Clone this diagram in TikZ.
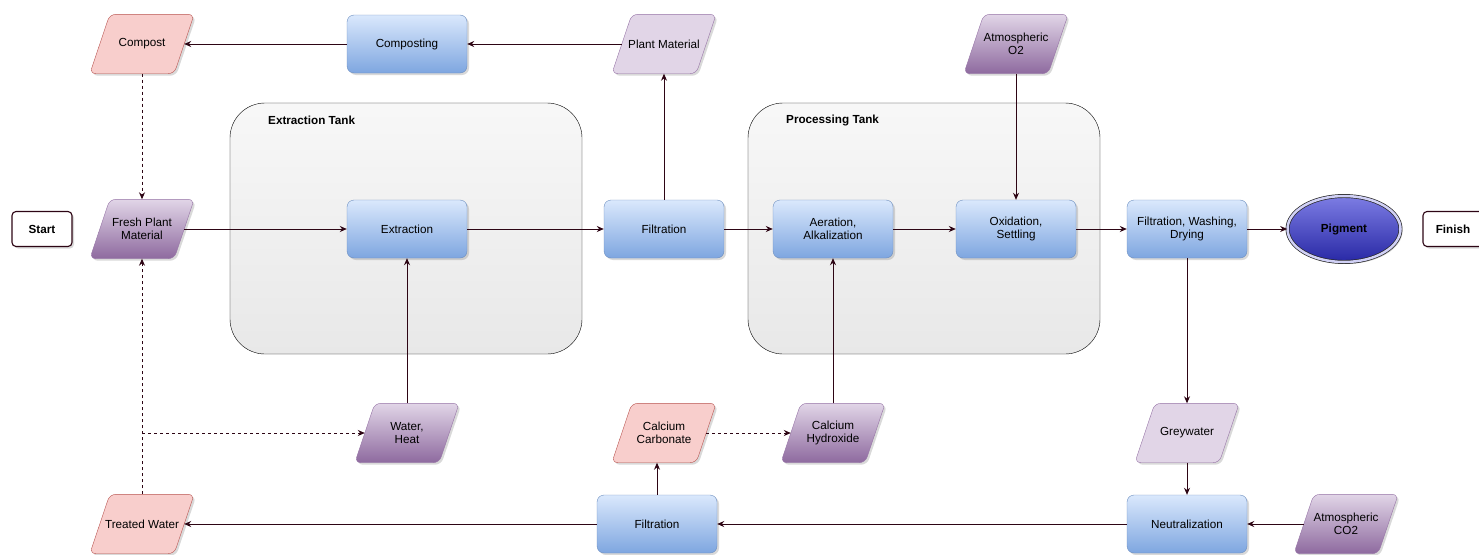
\documentclass[tikz,border=0pt]{standalone}
\usepackage{fontspec}
\setmainfont{Liberation Sans}
\usetikzlibrary{arrows.meta,shadows,shapes.geometric}

% slanted data box: rectangle anchors, parallelogram outline
\makeatletter
\pgfdeclareshape{slantbox}{
  \inheritsavedanchors[from=rectangle]
  \inheritanchorborder[from=rectangle]
  \inheritanchor[from=rectangle]{center}
  \inheritanchor[from=rectangle]{north}
  \inheritanchor[from=rectangle]{south}
  \inheritanchor[from=rectangle]{east}
  \inheritanchor[from=rectangle]{west}
  \inheritanchor[from=rectangle]{text}
  \inheritanchor[from=rectangle]{base}
  \backgroundpath{%
    \southwest \pgf@xa=\pgf@x \pgf@ya=\pgf@y
    \northeast \pgf@xb=\pgf@x \pgf@yb=\pgf@y
    \edef\slbot{\the\pgf@ya}\edef\sltop{\the\pgf@yb}%
    \pgf@xc=\pgf@xa \advance\pgf@xc by -10pt \edef\slbl{\the\pgf@xc}%
    \pgf@xc=\pgf@xa \advance\pgf@xc by 10pt \edef\sltl{\the\pgf@xc}%
    \pgf@xc=\pgf@xb \advance\pgf@xc by 10pt \edef\sltr{\the\pgf@xc}%
    \pgf@xc=\pgf@xb \advance\pgf@xc by -10pt \edef\slbr{\the\pgf@xc}%
    \pgf@xc=\pgf@xa \advance\pgf@xc by \pgf@xb \divide\pgf@xc by 2 \edef\slmid{\the\pgf@xc}%
    \pgfpathmoveto{\pgfqpoint{\slmid}{\slbot}}%
    \pgfpathlineto{\pgfqpoint{\slbl}{\slbot}}%
    \pgfpathlineto{\pgfqpoint{\sltl}{\sltop}}%
    \pgfpathlineto{\pgfqpoint{\sltr}{\sltop}}%
    \pgfpathlineto{\pgfqpoint{\slbr}{\slbot}}%
    \pgfpathclose
  }
}
\makeatother

\definecolor{linecol}{RGB}{45,5,20}
\definecolor{bluetop}{HTML}{DAE8FC}
\definecolor{bluebot}{HTML}{7EA6E0}
\definecolor{bluedraw}{HTML}{6C8EBF}
\definecolor{purptop}{HTML}{E1D5E7}
\definecolor{purpbot}{HTML}{8E6A9F}
\definecolor{purpdraw}{HTML}{9673A6}
\definecolor{pinkfill}{HTML}{F8CECC}
\definecolor{pinkdraw}{HTML}{B85450}
\definecolor{pigtop}{RGB}{125,125,228}
\definecolor{pigbot}{RGB}{40,40,165}

\tikzset{every node/.style={font=\fontsize{11.7}{13.5}\selectfont, align=center, inner sep=2pt},
  shadowed/.style={drop shadow={shadow xshift=2pt, shadow yshift=-2pt, opacity=.3}},
  procbox/.style={rectangle, rounded corners=7pt, draw=bluedraw, top color=bluetop, bottom color=bluebot,
    minimum width=120pt, minimum height=58pt, shadowed},
  databox/.style={slantbox, rounded corners=6pt, minimum width=84pt, minimum height=59pt, shadowed},
  inbox/.style={databox, draw=purpdraw, top color=purptop, bottom color=purpbot},
  outbox/.style={databox, draw=purpdraw, fill=purptop},
  wastebox/.style={databox, draw=pinkdraw, fill=pinkfill},
  termbox/.style={rectangle, rounded corners=4pt, draw=linecol, line width=1.1pt, fill=white,
    minimum width=60pt, minimum height=35pt, font=\fontsize{11.7}{13.5}\selectfont\bfseries, shadowed},
  tank/.style={draw=black, rounded corners=35pt, top color=white!97!black, bottom color=white!91!black},
  tanklabel/.style={anchor=west, font=\fontsize{11.7}{13.5}\selectfont\bfseries},
  arr/.style={draw=linecol, line width=1pt, -{Stealth[length=7pt,width=6pt]}},
  dasharr/.style={arr, dash pattern=on 3pt off 3pt}}

\begin{document}
\begin{tikzpicture}[x=1pt,y=-1pt]
  \useasboundingbox (0,0) rectangle (1479,554);

  % tanks
  \draw[tank] (230,103) rectangle (582,354);
  \draw[tank] (748,103) rectangle (1100,354);
  \node[tanklabel] (tankA) at (266,120) {Extraction Tank};
  \node[tanklabel] (tankB) at (784,120) {Processing Tank};

  % top row
  \node[wastebox] (compost)   at (142,44)  {Compost};
  \node[procbox]  (composting) at (407,44) {Composting};
  \node[outbox]   (plant)     at (664,44)  {Plant Material};
  \node[inbox]    (oxygen)    at (1016,44) {Atmospheric\\O2};

  % middle row
  \node[termbox]  (start)   at (42,229)   {Start};
  \node[inbox]    (fresh)   at (142,229)  {Fresh Plant\\Material};
  \node[procbox]  (extract) at (407,229)  {Extraction};
  \node[procbox]  (filtA)   at (664,229)  {Filtration};
  \node[procbox]  (aerate)  at (833,229)  {Aeration,\\Alkalization};
  \node[procbox]  (oxidize) at (1016,229) {Oxidation,\\Settling};
  \node[procbox]  (wash)    at (1187,229) {Filtration, Washing,\\Drying};
  \node[ellipse, draw=black!85, line width=0.7pt, double=white!65!pigtop, double distance=2.5pt,
        top color=pigtop, bottom color=pigbot, minimum width=113pt, minimum height=66pt,
        font=\fontsize{11.7}{13.5}\selectfont\bfseries, shadowed] (pigment) at (1344,229) {Pigment};
  \node[termbox]  (finish)  at (1453,229) {Finish};

  % lower row
  \node[inbox]    (water)   at (407,433)  {Water,\\Heat};
  \node[wastebox] (carb)    at (664,433)  {Calcium\\Carbonate};
  \node[inbox]    (hydrox)  at (833,433)  {Calcium\\Hydroxide};
  \node[outbox]   (grey)    at (1187,433) {Greywater};

  % bottom row
  \node[wastebox] (treated) at (142,524)  {Treated Water};
  \node[procbox]  (filtB)   at (657,524)  {Filtration};
  \node[procbox]  (neutral) at (1187,524) {Neutralization};
  \node[inbox]    (carbon)  at (1346,524) {Atmospheric\\CO2};

  % main flow
  \draw[arr] (fresh) -- (extract);
  \draw[arr] (extract) -- (filtA);
  \draw[arr] (filtA) -- (aerate);
  \draw[arr] (aerate) -- (oxidize);
  \draw[arr] (oxidize) -- (wash);
  \draw[arr] (wash) -- (pigment);

  % inputs
  \draw[arr] (water) -- (extract);
  \draw[arr] (hydrox) -- (aerate);
  \draw[arr] (oxygen) -- (oxidize);
  \draw[arr] (carbon) -- (neutral);

  % plant material loop
  \draw[arr] (filtA) -- (plant);
  \draw[arr] (plant) -- (composting);
  \draw[arr] (composting) -- (compost);
  \draw[dasharr] (compost) -- (fresh);

  % water loop
  \draw[arr] (wash) -- (grey);
  \draw[arr] (grey) -- (neutral);
  \draw[arr] (neutral) -- (filtB);
  \draw[arr] (filtB) -- (treated);
  \draw[arr] (filtB.north) -- (filtB.north |- carb.south);
  \draw[dasharr] (carb) -- (hydrox);
  \draw[dasharr] (treated) -- (fresh);
  \draw[dasharr] (fresh.south |- water.west) -- (water.west);
\end{tikzpicture}
\end{document}
